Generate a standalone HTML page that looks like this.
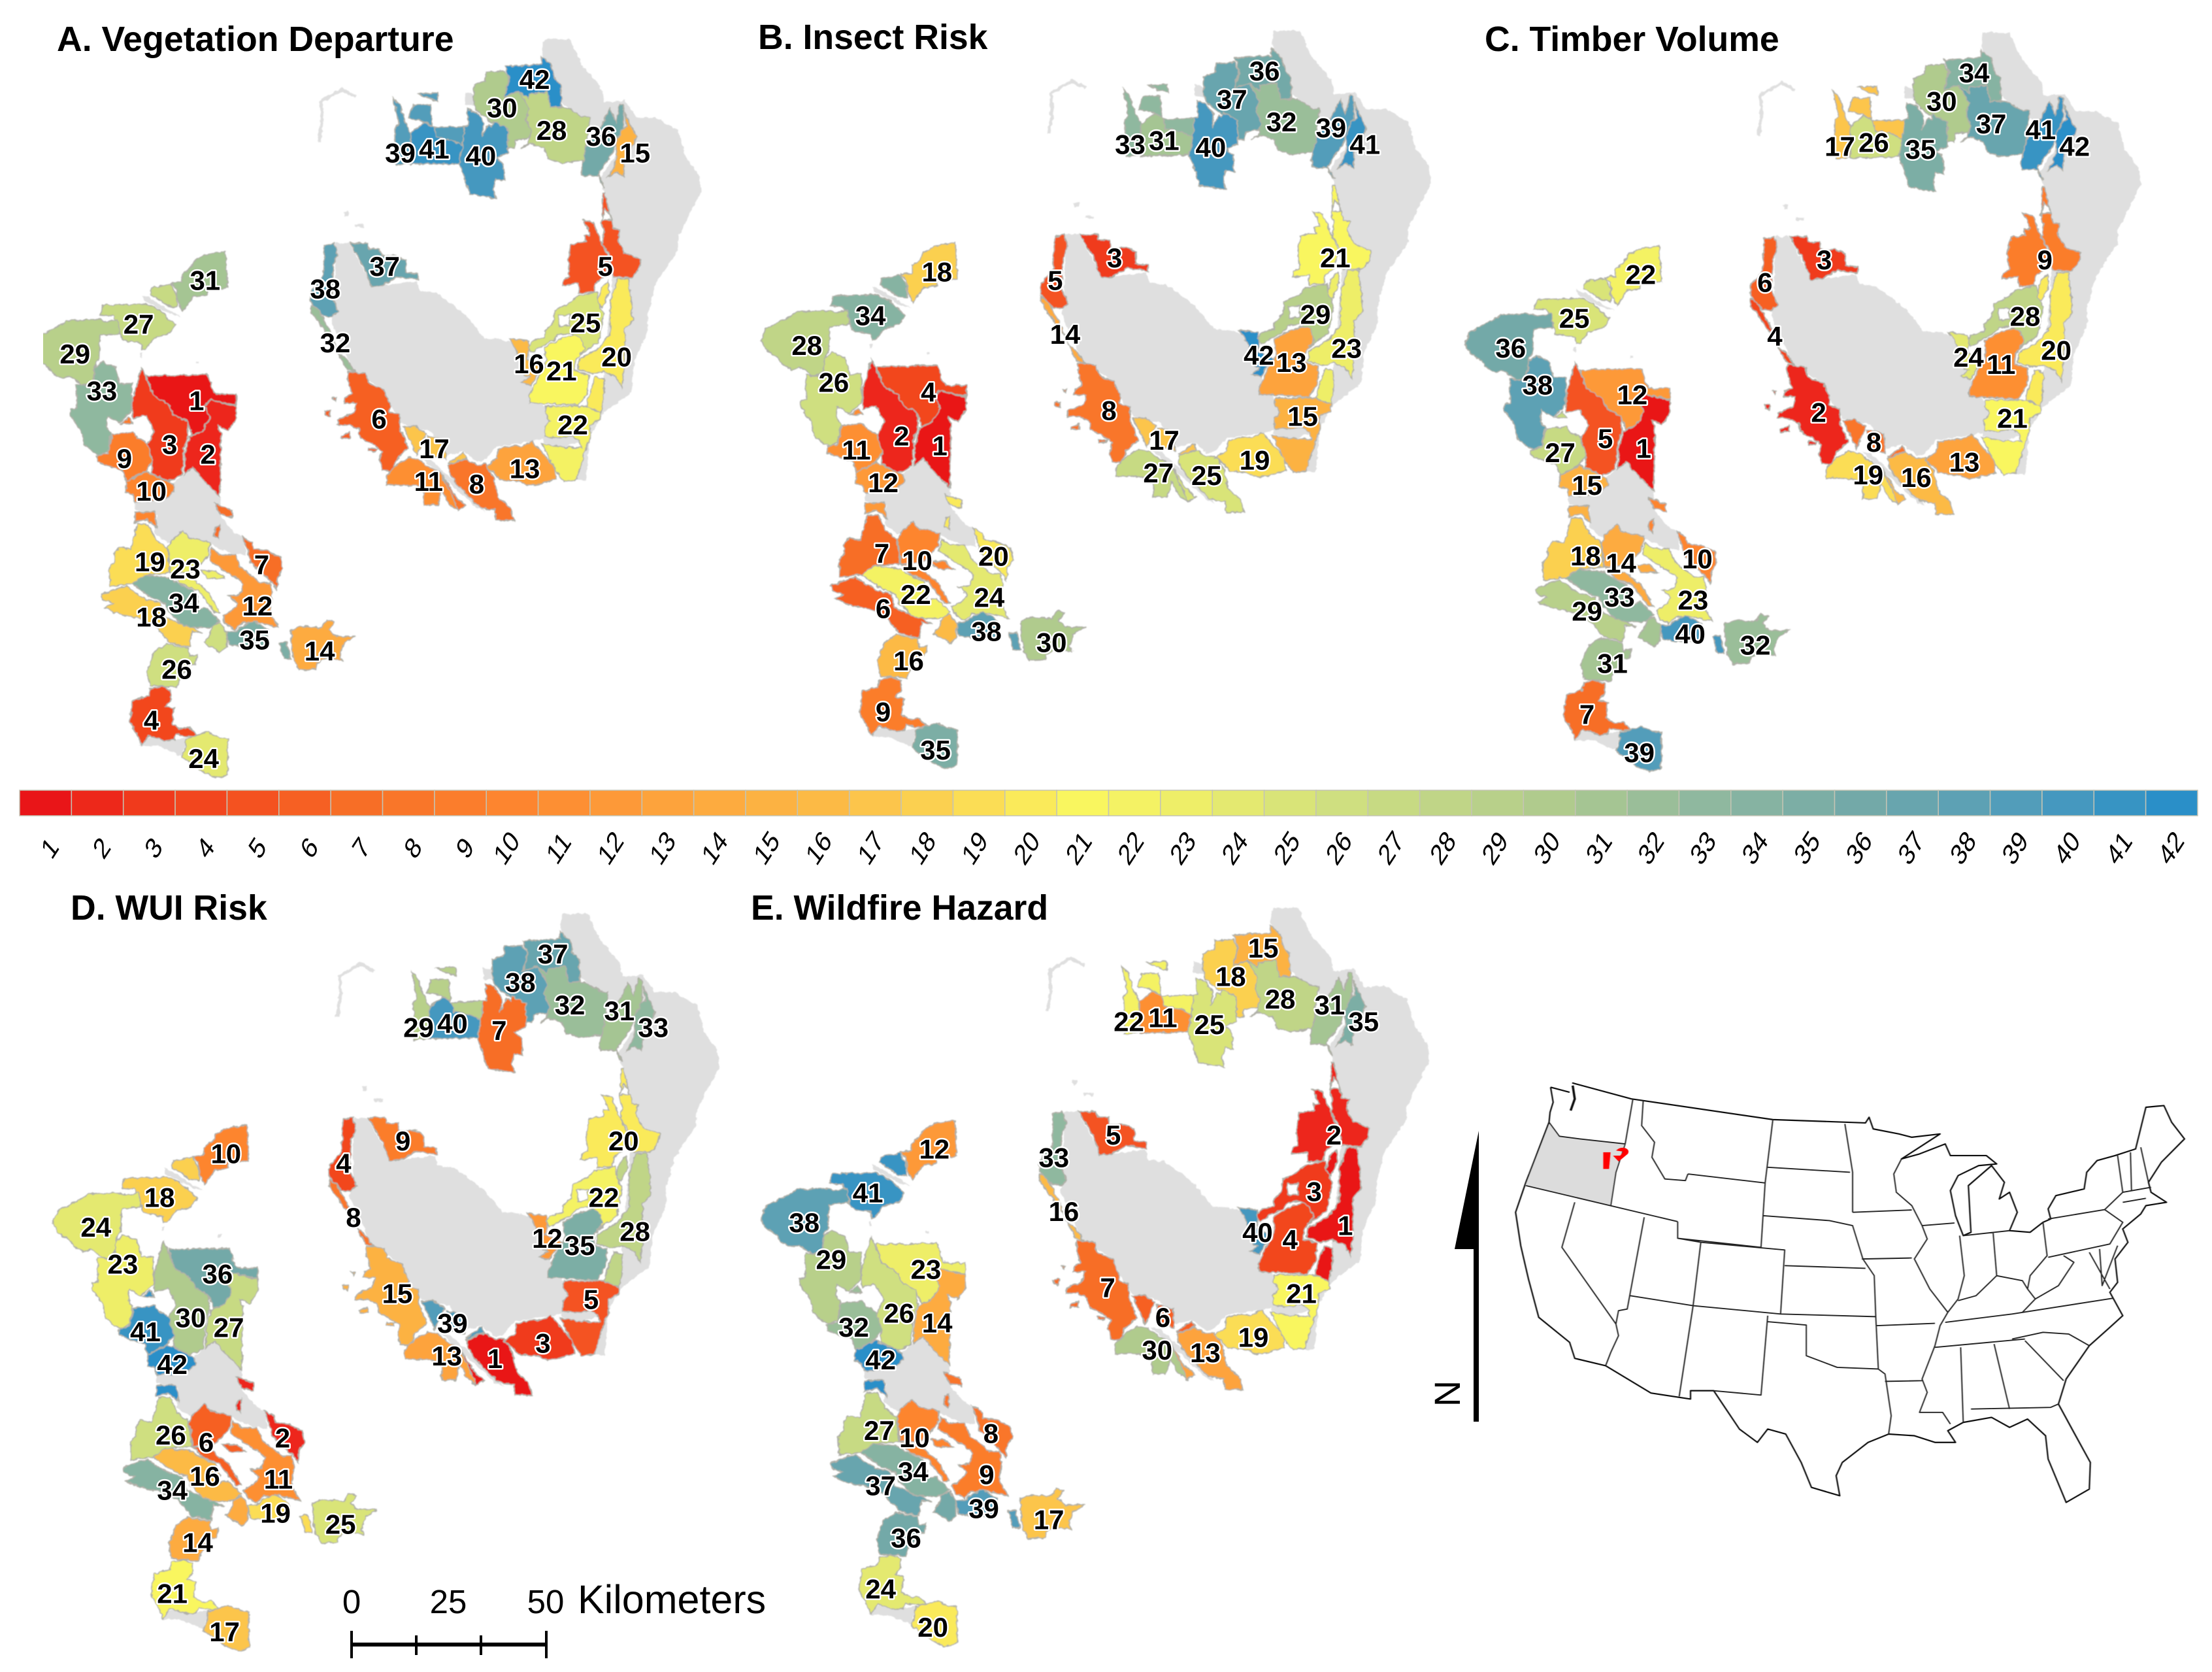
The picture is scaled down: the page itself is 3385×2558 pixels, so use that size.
<!DOCTYPE html>
<html lang="en">
<head>
<meta charset="utf-8">
<title>Priority ranking maps</title>
<style>
html,body{margin:0;padding:0;background:#fff}
svg{display:block}
text{font-family:"Liberation Sans",Arial,sans-serif}
.title{font-weight:bold;font-size:53.6px;fill:#000}
.zl{font-weight:bold;font-size:42px;fill:#000;stroke:#fff;stroke-width:5px;paint-order:stroke;stroke-linejoin:round;text-anchor:middle}
.lg{font-size:41px;fill:#000;text-anchor:middle}
.sb{font-size:51px;fill:#000;text-anchor:middle}
</style>
</head>
<body>
<svg id="fig" xmlns="http://www.w3.org/2000/svg" width="3385" height="2558" viewBox="0 0 3385 2558">
<defs>
<filter id="rough" x="-3%" y="-3%" width="106%" height="106%">
<feTurbulence type="fractalNoise" baseFrequency="0.13" numOctaves="2" seed="4" result="n"/>
<feDisplacementMap in="SourceGraphic" in2="n" scale="6" xChannelSelector="R" yChannelSelector="G"/>
<feGaussianBlur stdDeviation="0.8"/>
</filter>
<filter id="soft"><feGaussianBlur stdDeviation="0.7"/></filter>
<clipPath id="clip-panel-a"><rect x="66" y="0" width="3300" height="1205"/></clipPath>
</defs>
<g id="panels"></g>
<g id="legend"></g>

<g stroke="#000" fill="none">
<line x1="538" y1="2516" x2="836" y2="2516" stroke-width="6"/>
<line x1="538" y1="2495" x2="538" y2="2537" stroke-width="4"/>
<line x1="637" y1="2502" x2="637" y2="2532" stroke-width="4"/>
<line x1="736" y1="2502" x2="736" y2="2532" stroke-width="4"/>
<line x1="836" y1="2495" x2="836" y2="2537" stroke-width="4"/>
</g>
<text class="sb" x="538" y="2468">0</text>
<text class="sb" x="686" y="2468">25</text>
<text class="sb" x="835" y="2468">50</text>
<text x="884" y="2468" font-size="61" fill="#000">Kilometers</text>

<g>
<polygon points="2263,1730 2226,1911 2255,1911 2255,2175 2263,2175" fill="#000"/>
<text transform="translate(2234,2132) rotate(-90)" font-size="56" text-anchor="middle" fill="#000">N</text>
</g>

<g transform="translate(2150,1620) scale(0.7874,0.5102)" filter="url(#soft)">
<path d="M280,190 L300,232 L340,240 L430,255 L410,330 L400,440 L235,380 L240,340 Z" fill="#dcdcdc"/>
<path vector-effect="non-scaling-stroke" fill="none" stroke="#111" stroke-width="2.2" stroke-linejoin="round" d="M283,85 L288,130 L282,160 L280,190 M325,72 L440,120 L715,182 L895,192 L902,175 L910,210 L960,225 L985,235 L1040,225 L990,275 L965,300 L1000,285 L1050,255 L1060,290 L1130,290 L1150,315 L1115,320 L1075,350 L1060,395 L1070,470 L1085,530 L1100,520 L1095,380 L1140,320 L1165,370 L1155,420 L1175,400 L1190,460 L1175,515 L1215,520 L1240,490 L1255,480 L1250,450 L1265,410 L1320,390 L1325,340 L1345,305 L1380,290 L1420,270 L1440,145 L1475,140 L1490,190 L1515,240 L1470,310 L1445,370 L1450,400 L1480,430 L1440,440 L1430,465 L1395,510 L1405,550 L1380,600 L1385,670 L1370,700 L1395,770 L1370,805 L1330,860 L1285,960 L1270,1035 L1300,1120 L1332,1210 L1330,1290 L1285,1330 L1250,1200 L1245,1130 L1210,1080 L1175,1105 L1140,1075 L1085,1090 L1055,1115 L1070,1150 L1030,1150 L990,1130 L940,1125 L900,1150 L850,1210 L838,1250 L845,1310 L790,1285 L770,1210 L740,1125 L705,1110 L685,1150 L650,1110 L600,995 L555,995 L555,1020 L478,1002 L390,920 L330,898 L320,850 L260,775 L240,660 L225,560 L215,460 L235,370 L260,270 L280,190 M283,85 L320,100"/>
<path vector-effect="non-scaling-stroke" fill="none" stroke="#111" stroke-width="3.5" d="M326,80 L330,120 L322,155"/>
<path vector-effect="non-scaling-stroke" fill="none" stroke="#222" stroke-width="1.9" stroke-linejoin="round" d="M280,190 L300,232 L340,240 L428,255 M443,120 L428,255 L410,340 L400,440 M463,125 L460,200 L485,250 L480,295 L505,360 L545,365 L550,345 M235,380 L530,488 M330,430 L305,565 L410,795 L415,755 L432,750 L465,475 M410,795 L415,830 L400,880 L390,920 M437,710 L560,740 L575,550 L530,538 L530,488 M550,345 L700,372 L692,565 L530,538 M575,550 L738,573 L730,765 L560,740 L533,1012 M705,770 L692,1008 L600,995 M730,765 L915,773 M705,788 L780,798 L780,890 L840,925 L920,930 L933,945 L945,1070 L940,1125 M715,182 L700,372 M705,325 L865,340 M855,195 L870,340 L870,460 M695,470 L825,485 L870,500 L890,600 L912,650 L915,773 L920,930 M738,620 L895,628 M870,460 L985,453 M888,600 L985,597 M965,300 L950,345 L955,400 L985,440 L1005,500 M1005,500 L1068,492 M1005,500 L1015,540 L990,600 L1020,690 L1055,760 L1040,800 L1030,860 L1005,960 L1015,1000 L1000,1060 L1045,1060 L1060,1095 M915,800 L1030,793 M933,967 L1005,965 M1078,530 L1087,650 L1075,720 L1055,760 M1143,520 L1150,650 M1075,725 L1110,710 L1150,650 L1200,665 L1210,690 L1225,720 M1085,530 L1175,515 M1240,490 L1248,590 L1215,650 L1210,690 M1250,480 L1360,452 L1395,490 L1370,555 L1250,595 M1050,790 L1180,765 L1375,718 M1030,865 L1205,840 M1200,760 L1225,720 L1270,680 L1300,610 L1280,590 M1180,840 L1240,820 L1290,825 L1330,860 M1205,845 L1280,965 M1145,855 L1175,1050 M1100,1050 L1255,1045 L1270,1035 M1080,865 L1085,1090 M1360,452 L1395,400 L1385,290 M1410,280 L1412,395 M1430,265 L1445,370 M1395,400 L1450,385 M1395,430 L1440,418 M1350,570 L1355,680 L1385,560 M1330,580 L1370,690"/>
<path d="M385,280 L400,280 L397,330 L385,330 Z" fill="#f00"/>
<path d="M410,275 C420,258 440,268 433,285 L415,308 L404,290 L418,290 L424,278 Z" fill="#f00"/>
</g>
</svg>

<script>
// Rank of each zone under each criterion. Index 0 is zone 1 and so on.
const ranksA = [1,2,3,4,5,6,7,8,9,10,11,12,13,14,15,16,17,18,19,20,21,22,23,24,25,26,27,28,29,30,31,32,33,34,35,36,37,38,39,40,41,42];
const ranksB = [4,1,2,9,21,8,20,25,11,12,27,24,19,30,41,42,17,6,7,23,13,15,10,35,29,16,34,32,28,37,18,14,26,22,38,39,3,5,33,40,31,36];
const ranksC = [12,1,5,7,9,2,10,16,27,15,19,23,13,32,42,24,8,29,18,20,11,21,14,39,28,31,25,37,36,30,22,4,38,33,40,41,3,6,17,35,26,34];
const ranksD = [36,27,30,21,20,15,2,1,41,42,13,11,3,25,33,12,39,34,26,28,35,5,6,17,22,14,18,32,24,38,10,8,23,16,19,31,9,4,29,7,40,37];
const ranksE = [23,14,26,24,2,7,8,13,32,42,30,9,19,17,35,40,6,37,27,1,4,21,10,20,3,36,41,28,38,18,12,16,29,34,39,31,5,33,22,25,11,15];
const panelTitles = ['A. Vegetation Departure','B. Insect Risk','C. Timber Volume','D. WUI Risk','E. Wildfire Hazard'];
const legendTicks = [1,2,3,4,5,6,7,8,9,10,11,12,13,14,15,16,17,18,19,20,21,22,23,24,25,26,27,28,29,30,31,32,33,34,35,36,37,38,39,40,41,42];

// Colour ramp stops: rank, colour.
const rampRanks = [1,3,5,7,10,13,16,18,20,21,23,26,30,33,36,39,42];
const rampColors = ['#e91518','#f03a1c','#f45220','#f76e26','#fd852f','#fda33c','#fcba45','#fbd050','#faea5a','#f9f65f','#eeee68','#cfdf80','#b0cb8d','#8fb89f','#73a9a8','#529dba','#2a8fc8'];

// Map geometry, traced once in local frames and reused in every panel.
// frame: origin x, origin y, x scale, y scale
const frames = {
  c0:[0,0,1.4,1.2852], r:[440,320,2.376,3], w:[60,560,3,3], c:[130,760,3,3],
  n:[560,60,2.904,3], a:[30,370,3,3], b:[13,354,3,3]
};
const zoneShapes = {
1:[['w','M495,45 L770,40 L790,80 L790,100 L810,130 L905,130 L905,180 L780,155 L760,185 L785,235 L750,300 L700,315 L680,255 L620,225 L590,175 L520,130 Z']],
2:[['w','M785,155 L905,185 L905,240 L870,295 L820,275 L835,305 L830,600 L760,530 L705,465 L665,500 L670,400 L690,325 L750,300 L785,235 L760,185 Z']],
3:[['w','M470,10 L490,50 L520,130 L590,175 L620,225 L680,255 L685,320 L665,380 L655,500 L620,520 L590,530 L515,490 L520,440 L495,360 L530,300 L490,225 L430,240 L430,150 Z']],
4:[['c','M300,880 L350,870 L395,885 L395,930 L370,960 L410,970 L400,1040 L440,1065 L480,1060 L515,1095 L470,1100 L420,1090 L410,1115 L370,1120 L295,1095 L260,1140 L245,1105 L205,1030 L220,935 L290,915 Z']],
5:[['r','M1155,0 L1175,30 L1185,90 L1210,95 L1200,140 L1225,200 L1285,230 L1280,270 L1255,315 L1185,310 L1170,210 L1145,160 L1150,100 L1140,60 Z'],['r','M1075,50 L1110,60 L1145,165 L1170,230 L1150,310 L1120,340 L1115,380 L1060,385 L1060,340 L1000,350 L1005,325 L1025,310 L1020,240 L1030,160 L1085,150 L1080,120 L1100,120 L1090,80 Z'],['n','M1052,710 L1062,710 L1090,830 L1050,830 Z']],
6:[['r','M220,745 L285,755 L295,800 L350,830 L375,905 L370,930 L410,945 L410,1010 L440,1100 L395,1150 L380,1205 L345,1200 L335,1150 L345,1110 L310,1080 L265,1050 L260,1010 L225,990 L180,990 L185,965 L240,935 L250,890 L205,890 L210,865 L235,850 L220,790 Z M135,925 L155,925 L155,950 L140,945 Z M165,865 L178,865 L175,880 Z M195,1040 L225,1025 L228,1050 L195,1052 Z M295,1095 L325,1100 L320,1110 L295,1110 Z']],
7:[['c','M725,185 L770,210 L775,240 L840,250 L900,280 L910,330 L885,370 L880,425 L850,385 L810,350 L760,300 L745,240 Z'],['w','M805,630 L885,660 L885,695 L830,680 Z M810,740 L830,730 L825,795 L805,780 Z']],
8:[['r','M585,1175 L650,1145 L690,1175 L720,1170 L750,1230 L765,1320 L810,1370 L825,1430 L760,1430 L755,1380 L700,1370 L660,1320 L620,1270 L590,1215 Z M565,1220 L610,1320 L650,1360 L620,1385 L595,1330 Z']],
9:[['w','M335,315 L380,310 L430,305 L450,330 L495,355 L520,440 L490,480 L400,530 L385,480 L320,460 L270,440 L265,415 L315,400 Z M375,265 L410,235 L430,265 Z']],
10:[['w','M400,530 L490,485 L590,530 L615,545 L620,575 L570,615 L440,625 L430,590 L395,580 Z M440,670 L530,670 L540,745 L495,705 L440,720 Z']],
11:[['r','M360,1220 L400,1170 L440,1140 L480,1150 L515,1185 L555,1210 L600,1320 L620,1380 L590,1360 L560,1290 L545,1360 L495,1360 L495,1280 L460,1270 L415,1265 L360,1265 Z']],
12:[['c','M660,455 L710,450 L730,400 L690,370 L640,340 L570,290 L580,235 L620,265 L690,265 L720,330 L770,365 L805,395 L850,395 L860,440 L850,530 L890,600 L790,575 L720,580 L690,610 L650,590 L630,550 L680,520 L700,490 Z']],
13:[['r','M765,1100 L820,1085 L850,1090 L890,1065 L970,1180 L975,1240 L920,1260 L880,1270 L840,1250 L770,1240 L750,1210 L720,1180 L760,1145 Z']],
14:[['c','M945,610 L1000,595 L1060,600 L1090,600 L1110,565 L1145,575 L1120,610 L1150,640 L1220,640 L1245,640 L1190,670 L1170,730 L1180,755 L1110,740 L1065,765 L1060,790 L985,795 L960,750 L950,700 Z']],
15:[['n','M1150,330 L1170,380 L1205,450 L1180,495 L1150,550 L1145,630 L1115,610 L1075,630 L1100,590 L1115,540 L1110,470 L1130,420 L1160,400 Z']],
16:[['r','M805,595 L875,605 L880,640 L870,690 L935,730 L915,745 L885,810 L850,795 L880,770 L860,760 L850,700 L830,640 Z']],
17:[['r','M420,1000 L465,995 L505,1030 L470,1130 L445,1060 Z M510,1040 L570,1060 L575,1150 L520,1130 Z M585,1165 L640,1115 L650,1140 L590,1170 Z']],
18:[['c','M75,450 L150,420 L190,410 L230,440 L280,470 L350,490 L365,550 L410,570 L490,600 L540,625 L490,620 L480,690 L390,670 L330,600 L300,580 L240,555 L160,540 L90,510 L130,490 L80,470 Z']],
19:[['c','M240,125 L290,125 L325,195 L378,240 L390,350 L270,360 L215,400 L115,410 L110,330 L135,300 L135,260 L155,230 L210,240 Z']],
20:[['r','M1200,320 L1240,320 L1250,420 L1255,510 L1225,550 L1225,610 L1225,720 L1215,820 L1195,770 L1150,745 L1110,755 L1055,735 L1060,690 L1130,640 L1175,570 L1175,420 Z M1165,330 L1170,380 L1145,450 L1125,440 L1140,360 Z M1120,770 L1150,780 L1150,850 L1140,935 L1085,905 L1105,820 Z']],
21:[['r','M935,635 L1000,590 L1060,570 L1085,650 L1050,690 L1045,740 L1095,760 L1090,840 L1060,900 L880,890 L880,860 L915,760 L935,730 L940,690 Z']],
22:[['r','M940,905 L1060,905 L1085,905 L1140,935 L1140,965 L1100,990 L1100,1050 L1085,1100 L1050,1240 L1005,1250 L975,1200 L925,1075 L985,1090 L1070,1095 L1060,1060 L1035,1040 L990,1050 L935,1045 L935,1000 L955,970 L935,935 Z']],
23:[['c','M380,235 L400,200 L450,155 L480,190 L530,200 L575,210 L565,270 L530,310 L490,345 L395,350 Z M530,340 L600,340 L640,375 L565,375 Z M395,350 L490,375 L560,430 L620,530 L595,530 L520,430 L440,400 Z']],
24:[['c','M465,1110 L560,1080 L620,1105 L655,1110 L655,1275 L600,1290 L545,1265 L445,1195 L460,1160 Z']],
25:[['r','M1050,400 L1125,380 L1130,430 L1150,480 L1130,610 L1060,670 L1080,640 L1065,590 L1030,565 L985,575 L970,600 L925,630 L885,660 L875,630 L890,605 L935,590 L935,560 L965,520 L970,465 L1025,430 Z M985,485 L1025,485 L1025,535 L990,540 Z']],
26:[['c','M375,675 L475,695 L480,735 L515,725 L505,770 L480,770 L430,845 L425,875 L300,865 L285,800 L320,710 Z M590,590 L620,580 L650,620 L650,690 L620,715 L600,700 L545,670 L570,640 Z']],
27:[['a','M385,290 L580,285 L640,310 L715,380 L690,420 L620,440 L580,490 L565,495 L560,465 L470,450 L450,380 L430,340 L370,335 Z M605,210 L695,195 L720,240 L725,300 L680,295 L650,270 L600,240 Z']],
28:[['n','M680,240 L730,250 L805,240 L820,315 L895,315 L960,355 L995,360 L980,480 L975,555 L925,560 L875,570 L810,550 L790,500 L730,480 L690,500 L720,480 L735,425 L712,370 L725,320 Z']],
29:[['b','M270,410 L420,405 L440,415 L500,405 L510,470 L440,475 L420,480 L415,590 L400,605 L385,700 L340,705 L280,665 L245,675 L200,650 L180,620 L130,590 L105,545 L125,490 L170,465 L240,430 Z']],
30:[['n','M480,210 L530,190 L535,150 L615,145 L635,180 L615,265 L680,240 L725,320 L712,370 L735,425 L725,455 L665,465 L660,500 L630,500 L630,410 L555,380 L540,370 L490,325 L480,290 Z']],
31:[['a','M945,45 L955,210 L905,215 L860,220 L860,245 L800,250 L750,320 L730,280 L720,215 L695,190 L745,185 L745,150 L780,125 L800,90 L850,60 Z']],
32:[['r','M85,440 L110,460 L150,550 L185,660 L215,690 L245,745 L215,735 L170,620 L125,540 L85,470 Z']],
33:[['a','M345,575 L380,550 L440,575 L460,650 L515,650 L515,775 L460,830 L405,800 L400,850 L420,880 L405,960 L370,980 L345,970 L295,930 L285,870 L235,800 L235,770 L260,765 L260,655 L310,660 L340,630 Z']],
34:[['c','M215,400 L270,360 L380,370 L450,410 L500,430 L520,480 L510,520 L560,510 L620,570 L580,600 L490,600 L440,585 L410,550 L385,530 L370,490 L300,460 Z']],
35:[['c','M710,600 L770,570 L840,610 L840,640 L830,690 L720,690 L660,680 L650,620 L700,615 Z M890,670 L925,665 L945,745 L915,745 Z']],
36:[['n','M985,480 L1050,390 L1085,315 L1110,380 L1130,295 L1145,300 L1145,400 L1110,480 L1095,530 L1065,570 L1030,620 L1060,680 L1040,660 L1035,630 L960,625 L958,590 Z']],
37:[['r','M228,155 L290,155 L295,180 L335,180 L340,215 L395,215 L430,235 L430,290 L475,295 L475,325 L400,310 L345,350 L305,355 L280,270 Z']],
38:[['r','M135,165 L170,155 L182,210 L165,260 L160,400 L185,470 L160,495 L130,490 L85,430 L85,380 L130,310 Z']],
39:[['n','M122,268 L150,300 L165,350 L185,400 L200,430 L195,570 L135,578 L128,410 L145,385 L135,330 Z M300,405 L440,400 L430,490 L385,465 L310,450 Z M210,300 L285,300 L295,400 L265,380 L190,360 Z M232,250 L320,245 L320,285 L270,270 Z']],
40:[['n','M450,320 L490,335 L525,385 L515,450 L545,390 L560,400 L565,375 L630,410 L630,520 L580,545 L610,570 L615,650 L580,640 L565,690 L580,730 L460,710 L440,640 L415,570 L430,490 L440,400 L455,395 Z']],
41:[['n','M200,430 L260,380 L300,405 L310,450 L385,465 L430,490 L415,570 L200,575 Z']],
42:[['n','M615,125 L700,120 L780,115 L780,80 L825,120 L840,185 L865,210 L870,310 L820,315 L805,240 L730,250 L725,275 L680,240 L615,265 L640,180 Z']]
};
const eastBaseShapes = [
  ['n','M790,0 L905,0 L960,120 L1050,230 L1060,290 L1150,280 L1200,360 L1290,360 L1390,420 L1420,540 L1480,620 L1490,700 L1440,800 L1400,840 L1100,840 L1060,710 L1040,640 L1130,500 L870,290 L780,60 Z'],
  ['r','M1170,0 L1470,0 L1420,130 L1420,190 L1340,340 L1310,480 L1310,560 L1260,700 L1250,840 L1150,935 L1100,1040 L1085,1245 L1050,1245 L1060,1100 L1140,900 L1180,320 Z'],
  ['r','M175,155 L225,155 L290,310 L340,350 L470,330 L480,375 L540,385 L590,430 L650,490 L715,590 L770,595 L810,610 L880,640 L880,800 L930,900 L935,1050 L920,1060 L760,1090 L720,1150 L690,1160 L640,1110 L580,1130 L520,1020 L420,990 L375,900 L350,830 L240,745 L160,520 L170,455 Z'],
  ['r','M205,10 L222,10 L220,32 L208,32 Z M248,70 L280,70 L280,82 L248,82 Z'],
  ['r','M925,905 L1090,905 L1085,1060 L1000,1095 L930,1070 Z'],
  ['n','M440,245 L490,260 L490,305 L440,300 Z'],
  ['r','M490,1145 L520,1150 L600,1240 L690,1350 L720,1390 L690,1375 L600,1270 L530,1190 Z']
];
const westBaseShapes = [
  ['w','M610,540 L705,465 L760,530 L830,605 L835,690 L890,760 L940,790 L950,870 L880,860 L790,820 L590,810 L530,770 L540,680 L440,660 L440,625 L570,615 Z'],
  ['c','M250,1140 L300,1100 L410,1115 L470,1105 L445,1190 L400,1170 L340,1145 L260,1145 Z'],
  ['a','M565,245 L590,255 L740,345 L700,335 L570,270 Z M553,510 L563,510 L563,530 L553,530 Z M810,550 L825,550 L825,560 L810,560 Z']
];
const islandPath = ['c0','M683,280 L690,240 L688,200 L733,176 L762,190'];
const westZones = [1,2,3,4,7,9,10,12,14,18,19,23,24,26,27,29,31,33,34,35];
const labelSpots = {1:[139,283],2:[147,321],3:[120,314],4:[107,509],5:[428,188],6:[268,296],7:[185,399],8:[337,342],9:[88,324],10:[107,347],11:[303,340],12:[182,428],13:[371,331],14:[226,460],15:[449,108],16:[374,257],17:[307,317],18:[107,436],19:[106,397],20:[436,252],21:[397,262],22:[405,300],23:[131,402],24:[144,536],25:[414,228],26:[125,473],27:[98,229],28:[390,92],29:[53,250],30:[355,76],31:[145,198],32:[237,242],33:[72,276],34:[130,426],35:[180,452],36:[425,96],37:[272,188],38:[230,204],39:[283,108],40:[340,110],41:[307,105],42:[378,56]};

const NS = 'http://www.w3.org/2000/svg';
const panelLetters = ['a','b','c','d','e'];
const panelRanks = [ranksA,ranksB,ranksC,ranksD,ranksE];
const panelWest = [[0,0],[1117,-14],[2194,-9],[33,1336],[1116,1329]];
const panelEast = [[0,0],[1117,-13],[2203,-10],[28,1338],[1115,1329]];
const labelWest = [[0,0],[1120,-13],[2197,-9],[32,1336],[1116,1329]];
const titleSpots = [[87,78],[1160,75],[2272,78],[108,1407],[1149,1407]];
const DISPLAY = 2.1643;

function rankColor(rank){
  let k = 0;
  while (k < rampRanks.length - 2 && rank > rampRanks[k + 1]) k++;
  const t = (rank - rampRanks[k]) / (rampRanks[k + 1] - rampRanks[k]);
  const a = rampColors[k], b = rampColors[k + 1];
  const out = [1,3,5].map(function(p){
    const x = parseInt(a.substr(p,2),16), y = parseInt(b.substr(p,2),16);
    return Math.round(x + (y - x) * t);
  });
  return 'rgb(' + out.join(',') + ')';
}

function mapPath(part){
  const f = frames[part[0]];
  return part[1].replace(/(-?\d+(?:\.\d+)?),(-?\d+(?:\.\d+)?)/g, function(m, x, y){
    return (f[0] + x / f[2]).toFixed(1) + ',' + (f[1] + y / f[3]).toFixed(1);
  });
}
function mapParts(parts){
  return parts.map(mapPath).join(' ');
}

function make(tag, parent){
  const el = document.createElementNS(NS, tag);
  parent.appendChild(el);
  return el;
}

const panelsRoot = document.getElementById('panels');
panelRanks.forEach(function(ranks, p){
  const letter = panelLetters[p];
  const panel = make('g', panelsRoot);
  
  

  const title = make('text', panel);
  
  
  title.setAttribute('class', 'title');
  title.setAttribute('x', titleSpots[p][0]);
  title.setAttribute('y', titleSpots[p][1]);
  title.textContent = panelTitles[p];

  const shapes = make('g', panel);
  
  
  if (p === 0) shapes.setAttribute('clip-path', 'url(#clip-panel-a)');
  const roughLayer = make('g', shapes);
  roughLayer.setAttribute('filter', 'url(#rough)');

  const east = make('g', roughLayer);
  east.setAttribute('transform', 'translate(' + panelEast[p][0] + ',' + panelEast[p][1] + ')');
  const west = make('g', roughLayer);
  west.setAttribute('transform', 'translate(' + panelWest[p][0] + ',' + panelWest[p][1] + ')');

  const eastBase = make('path', east);
  
  
  eastBase.setAttribute('d', mapParts(eastBaseShapes));
  eastBase.setAttribute('fill', '#dfdfdf');

  const island = make('path', east);
  
  
  island.setAttribute('d', mapPath(islandPath));
  island.setAttribute('fill', 'none');
  island.setAttribute('stroke', '#dfdfdf');
  island.setAttribute('stroke-width', '5');

  const westBase = make('path', west);
  
  
  westBase.setAttribute('d', mapParts(westBaseShapes));
  westBase.setAttribute('fill', '#dfdfdf');

  ranks.forEach(function(rank, i){
    const zone = i + 1;
    const isWest = westZones.indexOf(zone) >= 0;
    const shape = make('path', isWest ? west : east);
    
    
    shape.setAttribute('d', mapParts(zoneShapes[zone]));
    shape.setAttribute('fill-rule', 'evenodd');
    shape.setAttribute('fill', rankColor(rank));
    shape.setAttribute('stroke', '#b0b0a8');
    shape.setAttribute('stroke-width', '1.8');
  });

  ranks.forEach(function(rank, i){
    const zone = i + 1;
    const isWest = westZones.indexOf(zone) >= 0;
    const off = isWest ? labelWest[p] : panelEast[p];
    const label = make('text', panel);
    
    
    label.setAttribute('class', 'zl');
    label.setAttribute('x', labelSpots[zone][0] * DISPLAY + off[0]);
    label.setAttribute('y', labelSpots[zone][1] * DISPLAY + off[1] + 15);
    label.textContent = rank;
  });
});

const legendRoot = document.getElementById('legend');
const cellW = (3363 - 30) / legendTicks.length;
legendTicks.forEach(function(tick, i){
  const cell = make('rect', legendRoot);
  
  
  cell.setAttribute('x', 30 + i * cellW);
  cell.setAttribute('y', 1209);
  cell.setAttribute('width', cellW);
  cell.setAttribute('height', 39);
  cell.setAttribute('fill', rankColor(tick));
  cell.setAttribute('stroke', '#c4c4b4');
  cell.setAttribute('stroke-width', '1.5');

  const cx = tick < 10 ? 76 + 79.4 * i : 775 + 79.6 * (i - 9);
  const label = make('text', legendRoot);
  
  
  label.setAttribute('class', 'lg');
  label.setAttribute('dy', '0.35em');
  label.setAttribute('transform', 'translate(' + cx + ',1297) scale(0.85,1.1) rotate(-50)');
  label.textContent = tick;
});
</script>
</body>
</html>
